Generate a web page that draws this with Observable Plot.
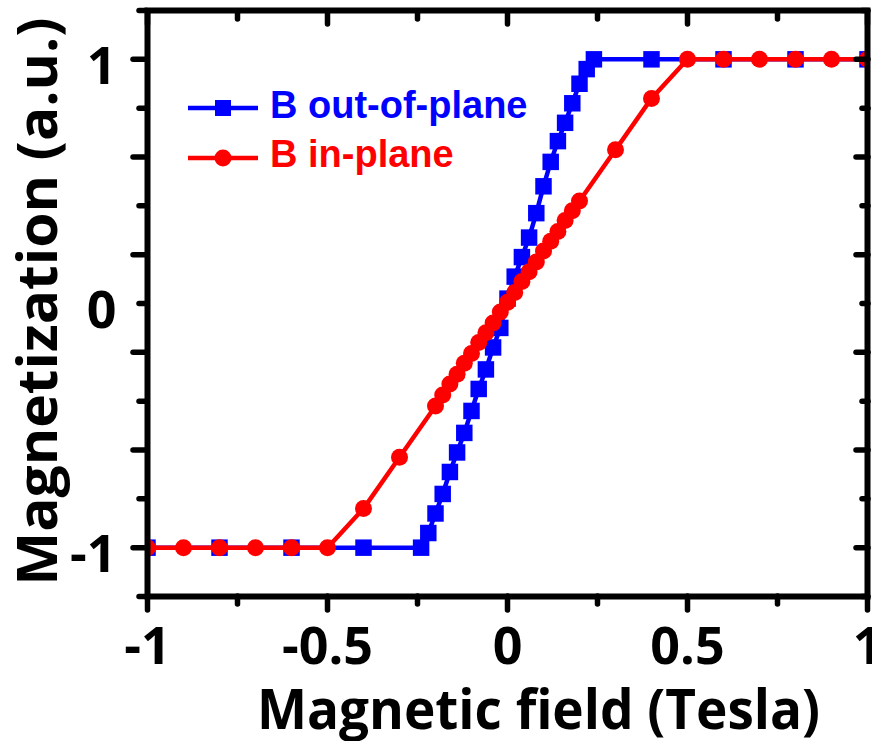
<!DOCTYPE html>
<html><head><meta charset="utf-8">
<script src="https://cdn.jsdelivr.net/npm/d3@7"></script>
<script src="https://cdn.jsdelivr.net/npm/@observablehq/plot@0.6"></script>
<style>
body{margin:0;background:#fff;}
#wrap{position:relative;width:872px;height:741px;overflow:hidden;background:#fff;}
#legend{position:absolute;left:180px;top:80px;}
</style></head><body><div id="wrap"></div>
<script>
// B out-of-plane (blue squares)
const outX = [-1, -0.8, -0.6, -0.4, -0.24, -0.22, -0.2, -0.18, -0.16, -0.14, -0.12, -0.1, -0.08, -0.06, -0.04, -0.02, 0, 0.02, 0.04, 0.06, 0.08, 0.1, 0.12, 0.14, 0.16, 0.18, 0.2, 0.22, 0.24, 0.4, 0.6, 0.8, 1];
const outY = [-1, -1, -1, -1, -1, -0.94, -0.86, -0.78, -0.69, -0.61, -0.53, -0.44, -0.35, -0.27, -0.18, -0.1, 0.02, 0.11, 0.19, 0.27, 0.37, 0.48, 0.58, 0.665, 0.74, 0.82, 0.9, 0.96, 1, 1, 1, 1, 1];
// B in-plane (red circles)
const inX = [-1, -0.9, -0.8, -0.7, -0.6, -0.5, -0.4, -0.3, -0.2, -0.18, -0.16, -0.14, -0.12, -0.1, -0.08, -0.06, -0.04, -0.02, 0, 0.02, 0.04, 0.06, 0.08, 0.1, 0.12, 0.14, 0.16, 0.18, 0.2, 0.3, 0.4, 0.5, 0.6, 0.7, 0.8, 0.9, 1];
const inY = [-1, -1, -1, -1, -1, -1, -0.84, -0.63, -0.42, -0.375, -0.33, -0.29, -0.245, -0.205, -0.16, -0.12, -0.08, -0.035, 0.005, 0.045, 0.09, 0.13, 0.17, 0.215, 0.255, 0.295, 0.34, 0.38, 0.42, 0.63, 0.84, 1, 1, 1, 1, 1, 1];

const xTickLabels = [-1, -0.5, 0, 0.5, 1];
const xMinorTicks = [-0.75, -0.25, 0.25, 0.75];
const yTickLabels = [-1, 0, 1];
const yLongTicks = [-1, -0.6, -0.2, 0.2, 0.6, 1];
const yShortTicks = [-1.2, -0.8, -0.4, 0, 0.4, 0.8, 1.2];
const seriesNames = ["B out-of-plane", "B in-plane"];
const seriesColors = ["#0000ff", "#ff0000"];
const xTitle = "Magnetic field (Tesla)";
const yTitle = "Magnetization (a.u.)";

const outData = outX.map((x, i) => ({x, y: outY[i]}));
const inData = inX.map((x, i) => ({x, y: inY[i]}));

const tk = {stroke: "black", fill: "none", strokeWidth: 5.5, strokeLinecap: "round", label: null};
const lbl = {tickSize: 0, fontSize: 52, fill: "black", label: null, tickFormat: d => String(d)};

const chart = Plot.plot({
  width: 872, height: 741,
  marginLeft: 147, marginRight: 5, marginTop: 10, marginBottom: 145,
  x: {domain: [-1, 1]},
  y: {domain: [-1.2, 1.2]},
  style: {fontFamily: "'Open Sans', sans-serif", fontWeight: "bold", color: "black", background: "white"},
  marks: [
    Plot.line(outData, {x: "x", y: "y", stroke: seriesColors[0], strokeWidth: 4.5, clip: true}),
    Plot.dot(outData, {x: "x", y: "y", symbol: "square", r: 9.3, fill: seriesColors[0], clip: true}),
    Plot.line(inData, {x: "x", y: "y", stroke: seriesColors[1], strokeWidth: 4.5, clip: true}),
    Plot.dot(inData, {x: "x", y: "y", symbol: "circle", r: 8.5, fill: seriesColors[1], clip: true}),
    Plot.frame({stroke: "black", strokeWidth: 6}),
    // bottom ticks (outward)
    Plot.axisX({ticks: xTickLabels, anchor: "bottom", tickSize: 14, ...tk}),
    Plot.axisX({ticks: xMinorTicks, anchor: "bottom", tickSize: 8, ...tk}),
    // top ticks (inward)
    Plot.axisX({ticks: xTickLabels, anchor: "top", tickSize: 13, dy: 13, ...tk}),
    Plot.axisX({ticks: xMinorTicks, anchor: "top", tickSize: 8, dy: 8, ...tk}),
    // left ticks (outward)
    Plot.axisY({ticks: yLongTicks, anchor: "left", tickSize: 14, ...tk}),
    Plot.axisY({ticks: yShortTicks, anchor: "left", tickSize: 8, ...tk}),
    // right ticks (inward)
    Plot.axisY({ticks: yLongTicks, anchor: "right", tickSize: 12, dx: -12, ...tk}),
    Plot.axisY({ticks: yShortTicks, anchor: "right", tickSize: 6, dx: -6, ...tk}),
    // tick labels
    Plot.axisX({ticks: xTickLabels, anchor: "bottom", tickPadding: 31, ...lbl}),
    Plot.axisY({ticks: yTickLabels, anchor: "left", tickPadding: 31, dy: 8, ...lbl}),
    // titles
    Plot.text([xTitle], {text: d => d, frameAnchor: "bottom", textAnchor: "middle", dx: 31, dy: 132, lineAnchor: "bottom", fontSize: 56, fontWeight: "bold", fill: "black"}),
    Plot.text([yTitle], {text: d => d, frameAnchor: "left", textAnchor: "middle", dx: -91, dy: -2, rotate: -90, lineAnchor: "bottom", fontSize: 56, fontWeight: "bold", fill: "black"})
  ]
});

chart.querySelectorAll("text").forEach(t => {
  if (t.textContent === xTitle) { t.setAttribute("textLength", 563); t.setAttribute("lengthAdjust", "spacingAndGlyphs"); }
  if (t.textContent === yTitle) { t.setAttribute("textLength", 568); t.setAttribute("lengthAdjust", "spacingAndGlyphs"); }
});

const wrap = document.getElementById("wrap");
wrap.appendChild(chart);

// legend
const leg = d3.select(wrap).append("svg").attr("id", "legend").attr("width", 380).attr("height", 110)
  .style("font-family", "'Liberation Sans', Arial, sans-serif").style("font-weight", "bold");
const rows = [28, 78];
seriesNames.forEach((name, i) => {
  const g = leg.append("g").attr("transform", `translate(0,${rows[i]})`);
  g.append("line").attr("x1", 8).attr("x2", 78).attr("y1", 0).attr("y2", 0)
    .attr("stroke", seriesColors[i]).attr("stroke-width", 4.5);
  if (i === 0) g.append("rect").attr("x", 35).attr("y", -8).attr("width", 16).attr("height", 16).attr("fill", seriesColors[i]);
  else g.append("circle").attr("cx", 43).attr("cy", 0).attr("r", 8.5).attr("fill", seriesColors[i]);
  g.append("text").attr("x", 90).attr("y", 10 - (i === 1 ? 1.5 : 0)).attr("font-size", 38)
    .attr("fill", seriesColors[i]).text(name);
});
</script></body></html>
